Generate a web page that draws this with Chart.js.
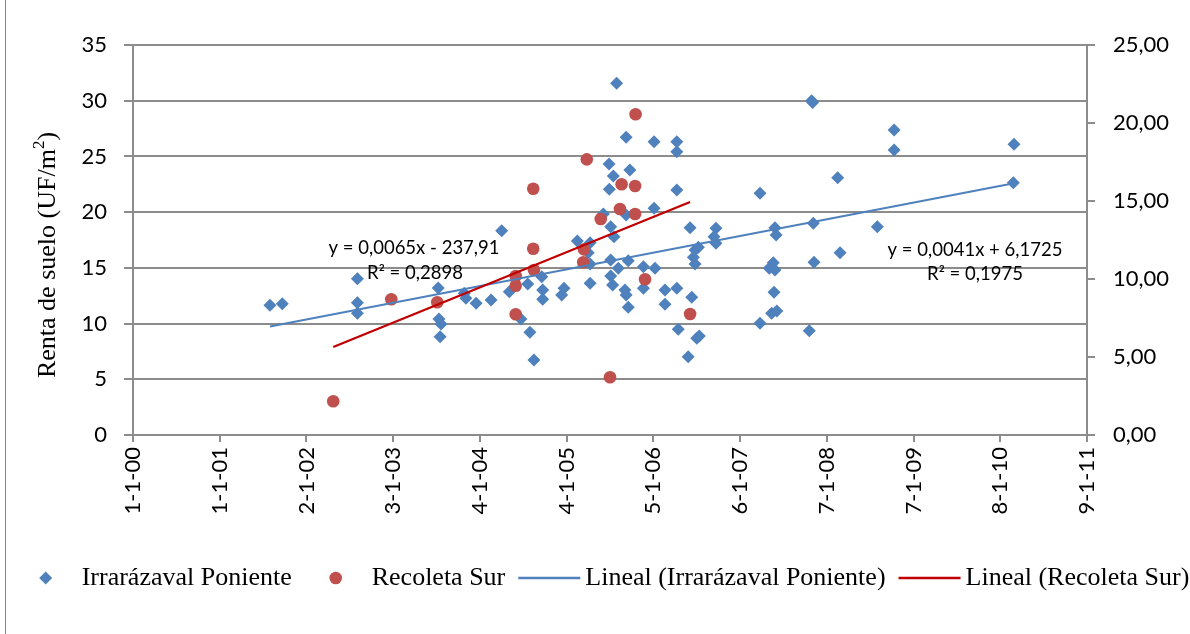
<!DOCTYPE html>
<html lang="es">
<head>
<meta charset="UTF-8">
<title>Renta de suelo</title>
<script src="https://cdn.jsdelivr.net/npm/chart.js"></script>
<style>
    body { margin: 0; background: #fff; }
    canvas { display: block; }
</style>
</head>
<body>
<canvas id="grafico" width="1190" height="634"></canvas>

<script>
    // fechas como número de serie de Excel (días desde 1900)
    const irrFecha = [
        37104, 37156, 37473, 37473, 37473, 37814, 37817, 37826, 37822, 37924, 37931, 37974, 38037, 38082, 38114, 38163, 38192, 38201, 38218,
        38567, 38607, 38535, 38553, 38623, 38536, 38511, 38607, 38542, 38556, 38401, 38455, 38447, 38542, 38616, 38574, 38455, 38542, 38550, 38455, 38602, 38607, 38616, 38345, 38335, 38251, 38255, 38255,
        38725, 38821, 38821, 38821, 38725, 38877, 38986, 38978, 38986, 38912, 38898, 38891, 38898, 38680, 38729, 38680, 38771, 38821, 38884, 38771, 38827, 38905, 38916, 38869,
        39390, 39394, 39738, 39738, 40244, 39172, 39500, 40241, 39235, 39240, 39397, 39667, 39510, 39400, 39228, 39211, 39235, 39231, 39221, 39243, 39172, 39380
    ];
    const irrRenta = [
        11.64, 11.78, 14.03, 11.87, 10.92, 13.19, 10.41, 9.96, 8.82, 12.72, 12.27, 11.82, 12.12, 18.33, 12.86, 10.41, 13.55, 9.22, 6.73,
        31.56, 26.72, 24.32, 23.24, 23.78, 22.05, 19.83, 19.74, 18.69, 17.80, 17.41, 17.26, 16.36, 15.70, 15.64, 14.96, 15.35, 14.27, 13.46, 13.61, 13.01, 12.56, 11.46, 13.17, 12.56, 14.21, 13.01, 12.18,
        26.32, 26.32, 25.42, 21.99, 20.34, 18.60, 18.55, 17.80, 17.20, 16.84, 16.60, 15.95, 15.35, 15.10, 14.96, 13.17, 13.01, 13.17, 12.36, 11.73, 9.49, 8.68, 8.88, 7.03,
        30.00, 29.84, 27.37, 25.58, 26.09, 21.69, 23.09, 22.64, 18.60, 17.95, 19.00, 18.69, 16.36, 15.50, 15.46, 14.96, 14.81, 12.81, 10.92, 11.13, 10.02, 9.36
    ];

    // Recoleta Sur va en el eje secundario (derecha)
    const recFecha = [37371, 37616, 37810, 38141, 38141, 38141, 38215, 38215, 38218, 38441, 38429, 38426, 38500, 38581, 38588, 38645, 38645, 38647, 38539, 38687, 38877];
    const recRenta = [2.16, 8.70, 8.51, 10.19, 9.57, 7.74, 15.79, 11.94, 10.58, 17.67, 11.90, 11.07, 13.85, 14.49, 16.07, 15.96, 14.17, 20.56, 3.70, 9.98, 7.76];

    const xTickLabels = ['1-1-00', '1-1-01', '2-1-02', '3-1-03', '4-1-04', '4-1-05', '5-1-06', '6-1-07', '7-1-08', '7-1-09', '8-1-10', '9-1-11'];
    const xInicio = 36526;   // 1-1-00
    const xPaso = 366;       // unidad mayor del eje

    const ecRecoleta = ['y = 0,0065x - 237,91', 'R² = 0,2898'];
    const ecIrrarrazaval = ['y = 0,0041x + 6,1725', 'R² = 0,1975'];

    const azul = '#4F81BD';
    const rojo = '#C0504D';
    const rojoLinea = '#C00000';
    const gris = '#8C8C8C';
    const fuenteEje = 'Lato, "Open Sans", sans-serif';
    const fuenteSerif = '"Liberation Serif", "Times New Roman", serif';

    function puntos(xs, ys) {
        return xs.map((x, i) => ({ x: x, y: ys[i] }));
    }

    // tendencia lineal por mínimos cuadrados, dibujada entre la primera y última fecha
    function tendencia(xs, ys) {
        const n = xs.length;
        const mx = xs.reduce((a, b) => a + b, 0) / n;
        const my = ys.reduce((a, b) => a + b, 0) / n;
        let sxy = 0, sxx = 0;
        for (let i = 0; i < n; i++) {
            sxy += (xs[i] - mx) * (ys[i] - my);
            sxx += (xs[i] - mx) * (xs[i] - mx);
        }
        const m = sxy / sxx;
        const b = my - m * mx;
        const x0 = Math.min(...xs), x1 = Math.max(...xs);
        return [{ x: x0, y: m * x0 + b }, { x: x1, y: m * x1 + b }];
    }

    // dibujos extra: marco, título del eje, ecuaciones y leyenda
    const extras = {
        id: 'extras',
        beforeDraw(chart) {
            const ctx = chart.ctx;
            ctx.save();
            ctx.fillStyle = '#fff';
            ctx.fillRect(0, 0, chart.width, chart.height);
            ctx.restore();
        },
        afterDraw(chart) {
            const ctx = chart.ctx;
            ctx.save();

            // borde izquierdo del marco
            ctx.strokeStyle = '#868686';
            ctx.lineWidth = 1;
            ctx.beginPath();
            ctx.moveTo(5.5, 0);
            ctx.lineTo(5.5, chart.height);
            ctx.stroke();

            // título del eje Y con superíndice
            ctx.fillStyle = '#000';
            ctx.translate(48, 255);
            ctx.rotate(-Math.PI / 2);
            ctx.font = '26px ' + fuenteSerif;
            const t1 = 'Renta de suelo (UF/m';
            const w1 = ctx.measureText(t1).width;
            ctx.font = '17px ' + fuenteSerif;
            const w2 = ctx.measureText('2').width;
            ctx.font = '26px ' + fuenteSerif;
            const w3 = ctx.measureText(')').width;
            let x = -(w1 + w2 + w3) / 2;
            ctx.textBaseline = 'middle';
            ctx.textAlign = 'left';
            ctx.fillText(t1, x, 0);
            ctx.font = '17px ' + fuenteSerif;
            ctx.fillText('2', x + w1, -8);
            ctx.font = '26px ' + fuenteSerif;
            ctx.fillText(')', x + w1 + w2, 0);
            ctx.setTransform(1, 0, 0, 1, 0, 0);

            // ecuaciones de las tendencias
            ctx.font = '18.5px ' + fuenteEje;
            ctx.textAlign = 'center';
            ctx.fillText(ecRecoleta[0], 414, 248);
            ctx.fillText(ecRecoleta[1], 415, 273);
            ctx.fillText(ecIrrarrazaval[0], 975, 250);
            ctx.fillText(ecIrrarrazaval[1], 975, 274);

            // leyenda
            const items = chart.data.datasets;
            const simbolo = 66, sep = 3, hueco = 11, ly = 578;
            ctx.font = '26px ' + fuenteSerif;
            const anchos = items.map(d => ctx.measureText(d.label).width);
            const total = anchos.reduce((a, b) => a + b, 0) + items.length * (simbolo + sep) + (items.length - 1) * hueco;
            let lx = (chart.width - total) / 2 + 6;
            items.forEach((d, i) => {
                const cx = lx + simbolo / 2;
                if (d.showLine) {
                    ctx.strokeStyle = d.borderColor;
                    ctx.lineWidth = 2.5;
                    ctx.beginPath();
                    ctx.moveTo(lx + 2, ly);
                    ctx.lineTo(lx + simbolo - 2, ly);
                    ctx.stroke();
                } else if (d.pointStyle === 'rectRot') {
                    ctx.fillStyle = d.backgroundColor;
                    ctx.beginPath();
                    ctx.moveTo(cx, ly - 6.5);
                    ctx.lineTo(cx + 6.5, ly);
                    ctx.lineTo(cx, ly + 6.5);
                    ctx.lineTo(cx - 6.5, ly);
                    ctx.closePath();
                    ctx.fill();
                } else {
                    ctx.fillStyle = d.backgroundColor;
                    ctx.beginPath();
                    ctx.arc(cx, ly, 6.3, 0, Math.PI * 2);
                    ctx.fill();
                }
                ctx.fillStyle = '#000';
                ctx.textAlign = 'left';
                ctx.textBaseline = 'middle';
                ctx.fillText(d.label, lx + simbolo + sep, ly);
                lx += simbolo + sep + anchos[i] + hueco;
            });
            ctx.restore();
        }
    };

    const grafico = new Chart(document.getElementById('grafico'), {
        type: 'scatter',
        data: {
            datasets: [
                {
                    label: 'Irrarázaval Poniente',
                    data: puntos(irrFecha, irrRenta),
                    pointStyle: 'rectRot',
                    pointRadius: 6.5,
                    backgroundColor: azul,
                    borderColor: azul,
                    borderWidth: 0,
                    yAxisID: 'y',
                    order: 3
                },
                {
                    label: 'Recoleta Sur',
                    data: puntos(recFecha, recRenta),
                    pointStyle: 'circle',
                    pointRadius: 6.3,
                    backgroundColor: rojo,
                    borderColor: rojo,
                    borderWidth: 0,
                    yAxisID: 'y2',
                    order: 2
                },
                {
                    label: 'Lineal (Irrarázaval Poniente)',
                    data: tendencia(irrFecha, irrRenta),
                    showLine: true,
                    borderColor: azul,
                    borderWidth: 2,
                    pointRadius: 0,
                    yAxisID: 'y',
                    order: 1
                },
                {
                    label: 'Lineal (Recoleta Sur)',
                    data: tendencia(recFecha, recRenta),
                    showLine: true,
                    borderColor: rojoLinea,
                    borderWidth: 2.3,
                    pointRadius: 0,
                    yAxisID: 'y2',
                    order: 0
                }
            ]
        },
        options: {
            responsive: false,
            animation: false,
            layout: { padding: { top: 45, right: 0, bottom: 0, left: 0 } },
            plugins: {
                legend: { display: false },
                tooltip: { enabled: false }
            },
            scales: {
                x: {
                    type: 'linear',
                    min: xInicio,
                    max: xInicio + xPaso * (xTickLabels.length - 1),
                    afterBuildTicks: function (eje) {
                        eje.ticks = xTickLabels.map((_, i) => ({ value: xInicio + i * xPaso }));
                    },
                    afterFit: function (eje) { eje.height = 199; },
                    ticks: {
                        callback: (v, i) => xTickLabels[i],
                        autoSkip: false,
                        minRotation: 90,
                        maxRotation: 90,
                        padding: 5,
                        color: '#000',
                        font: { family: fuenteEje, size: 22 }
                    },
                    grid: { drawOnChartArea: false, tickLength: 7, color: gris, lineWidth: 2 },
                    border: { color: gris, width: 2 }
                },
                y: {
                    position: 'left',
                    min: 0,
                    max: 35,
                    afterFit: function (eje) { eje.width = 133; },
                    ticks: {
                        stepSize: 5,
                        padding: 17,
                        color: '#000',
                        font: { family: fuenteEje, size: 22 }
                    },
                    grid: { color: gris, lineWidth: 2, tickLength: 9 },
                    border: { color: gris, width: 2 }
                },
                y2: {
                    position: 'right',
                    min: 0,
                    max: 25,
                    afterFit: function (eje) { eje.width = 103; },
                    ticks: {
                        stepSize: 5,
                        padding: 18,
                        color: '#000',
                        font: { family: fuenteEje, size: 22 },
                        callback: v => v.toFixed(2).replace('.', ',')
                    },
                    grid: { drawOnChartArea: false, tickLength: 8, color: gris, lineWidth: 2 },
                    border: { color: gris, width: 2 }
                }
            }
        },
        plugins: [extras]
    });
</script>
</body>
</html>
